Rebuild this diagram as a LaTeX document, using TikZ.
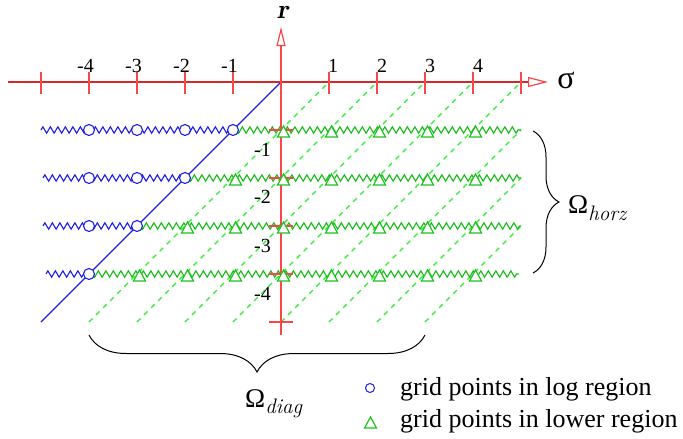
\documentclass[tikz,border=0pt]{standalone}
\usepackage{fontspec}
\setmainfont{Liberation Serif}
\newfontfamily\tnr{Liberation Serif}
\newcommand\lmit{\fontfamily{lmr}\selectfont\itshape}
\usetikzlibrary{decorations.pathmorphing,decorations.pathreplacing,arrows.meta,calc}
\definecolor{axisdark}{RGB}{210,40,40}
\definecolor{axislight}{RGB}{250,70,70}
\definecolor{logblue}{RGB}{30,30,230}
\definecolor{wavegreen}{RGB}{20,190,20}
\definecolor{dashgreen}{RGB}{40,240,40}
\definecolor{trigreen}{RGB}{30,195,30}
\begin{document}
\begin{tikzpicture}[x=1pt,y=-1pt,
  haxis/.style={draw=axisdark,line width=2.2pt,-{Triangle[open,length=20pt,width=10pt,line width=1.2pt,color=axislight]}},
  vaxis/.style={draw=axislight,line width=2pt,-{Triangle[open,length=19pt,width=9pt,line width=1.2pt]}},
  tickmark/.style={draw=axislight,line width=1.4pt},
  dashline/.style={draw=dashgreen,line width=1.1pt,dash pattern=on 5pt off 5pt},
  diagline/.style={draw=logblue,line width=1.3pt},
  bluewave/.style={draw=logblue,line width=1.1pt,decorate,decoration={zigzag,segment length=7.5pt,amplitude=3.2pt}},
  greenwave/.style={draw=wavegreen,line width=1.1pt,decorate,decoration={zigzag,segment length=7.5pt,amplitude=3.2pt}},
  circmark/.style={circle,draw=logblue,fill=white,line width=1.1pt,minimum size=11pt,inner sep=0pt},
  trimark/.pic={\draw[draw=trigreen,fill=white,line width=1.2pt] (-3.5,7) -- (8.5,7) -- (2.5,-4) -- cycle;},
  numlbl/.style={font=\tnr\fontsize{20}{20}\selectfont,inner sep=0pt,anchor=base},
  bracestyle/.style={draw=black,line width=1pt,decorate},
  legtext/.style={font=\tnr\fontsize{26}{26}\selectfont,inner sep=0pt,anchor=base west}
]
\useasboundingbox (0,0) rectangle (683,439);

% key coordinates
\coordinate (O) at (281,82);
\coordinate (hstart) at (8,82);
\coordinate (hend) at (548,82);
\coordinate (vstart) at (281,335);
\coordinate (vend) at (281,27);
\coordinate (dstart) at (281,82);
\coordinate (dend) at (41,322);

% dashed characteristic lines
\foreach \k in {0,...,7}{
  \pgfmathsetmacro\lx{89+48*\k}
  \pgfmathsetmacro\ux{min(329+48*\k,521)}
  \pgfmathsetmacro\uy{max(82,-110+48*\k)}
  \coordinate (dl\k) at (\lx,322);
  \coordinate (du\k) at (\ux,\uy);
  \draw[dashline] (dl\k) -- (du\k);
}

% blue diagonal
\draw[diagline] (dstart) -- (dend);

% wavy rows
\foreach \k/\xs/\xe in {1/41/521,2/43/521,3/43/521,4/46/519}{
  \pgfmathsetmacro\yy{82+48*\k}
  \pgfmathsetmacro\xd{281-48*\k}
  \coordinate (ws\k) at (\xs,\yy);
  \coordinate (wd\k) at (\xd,\yy);
  \coordinate (we\k) at (\xe,\yy);
  \draw[bluewave] (ws\k) -- (wd\k);
  \draw[greenwave] (wd\k) -- (we\k);
}

% axes
\draw[haxis] (hstart) -- (hend);
\draw[vaxis] (vstart) -- (vend);

% ticks on sigma axis
\foreach \i in {0,1,2,3,4,6,7,8,9,10}{
  \pgfmathsetmacro\tx{41+48*\i}
  \coordinate (ht\i a) at (\tx,72);
  \coordinate (ht\i b) at (\tx,94);
  \draw[tickmark] (ht\i a) -- (ht\i b);
}
% ticks on r axis
\foreach \k in {1,...,5}{
  \pgfmathsetmacro\ty{82+48*\k}
  \coordinate (vt\k a) at (269,\ty);
  \coordinate (vt\k b) at (293,\ty);
  \draw[tickmark] (vt\k a) -- (vt\k b);
}

% grid point markers
\foreach \k in {1,...,4}{
  \pgfmathsetmacro\yy{82+48*\k}
  \pgfmathtruncatemacro\cmax{4-\k}
  \pgfmathtruncatemacro\tmin{5-\k}
  \foreach \m in {0,...,\cmax}{
    \pgfmathsetmacro\xx{89+48*\m}
    \node[circmark] (c\k-\m) at (\xx,\yy) {};
  }
  \foreach \m in {\tmin,...,8}{
    \pgfmathsetmacro\xx{89+48*\m}
    \pic (t\k-\m) at (\xx,\yy) {trimark};
  }
}

% axis numbers
\node[numlbl] (nm4) at (85.5,72) {-4};
\node[numlbl] (nm3) at (133.5,72) {-3};
\node[numlbl] (nm2) at (181.5,72) {-2};
\node[numlbl] (nm1) at (229.5,72) {-1};
\node[numlbl] (np1) at (333,72) {1};
\node[numlbl] (np2) at (382,72) {2};
\node[numlbl] (np3) at (430,72) {3};
\node[numlbl] (np4) at (478,72) {4};
\node[numlbl] (nr1) at (262.5,156) {-1};
\node[numlbl] (nr2) at (262.5,203) {-2};
\node[numlbl] (nr3) at (262.5,252) {-3};
\node[numlbl] (nr4) at (262.5,300) {-4};

% axis names
\node[font=\fontfamily{lmr}\fontsize{27}{27}\selectfont\bfseries\itshape,inner sep=0pt,anchor=base] (rlabel) at (283,18) {r};
\node[font=\tnr\fontsize{32}{32}\selectfont,inner sep=0pt] (slabel) at (566,80) {σ};

% braces
\coordinate (bh1) at (533,131);
\coordinate (bh2) at (533,273);
\draw[bracestyle,decoration={brace,amplitude=26pt}] (bh1) -- (bh2);
\coordinate (bd1) at (425,335);
\coordinate (bd2) at (89,335);
\draw[bracestyle,decoration={brace,amplitude=37pt}] (bd1) -- (bd2);

\node[inner sep=0pt,anchor=base west] (omh) at (568,213)
  {\tnr\fontsize{27}{27}\selectfont Ω\raisebox{-7pt}{\fontsize{21}{21}\lmit horz}};
\node[inner sep=0pt,anchor=base west] (omd) at (245,407)
  {\tnr\fontsize{27}{27}\selectfont Ω\raisebox{-6pt}{\fontsize{21}{21}\lmit diag}};

% legend
\node[circle,draw=logblue,line width=1pt,minimum size=9pt,inner sep=0pt] (legc) at (370,388) {};
\pic (legt) at (368,421) {trimark};
\node[legtext] (leg1) at (400,395) {grid points in log region};
\node[legtext] (leg2) at (400,427) {grid points in lower region};
\end{tikzpicture}
\end{document}
